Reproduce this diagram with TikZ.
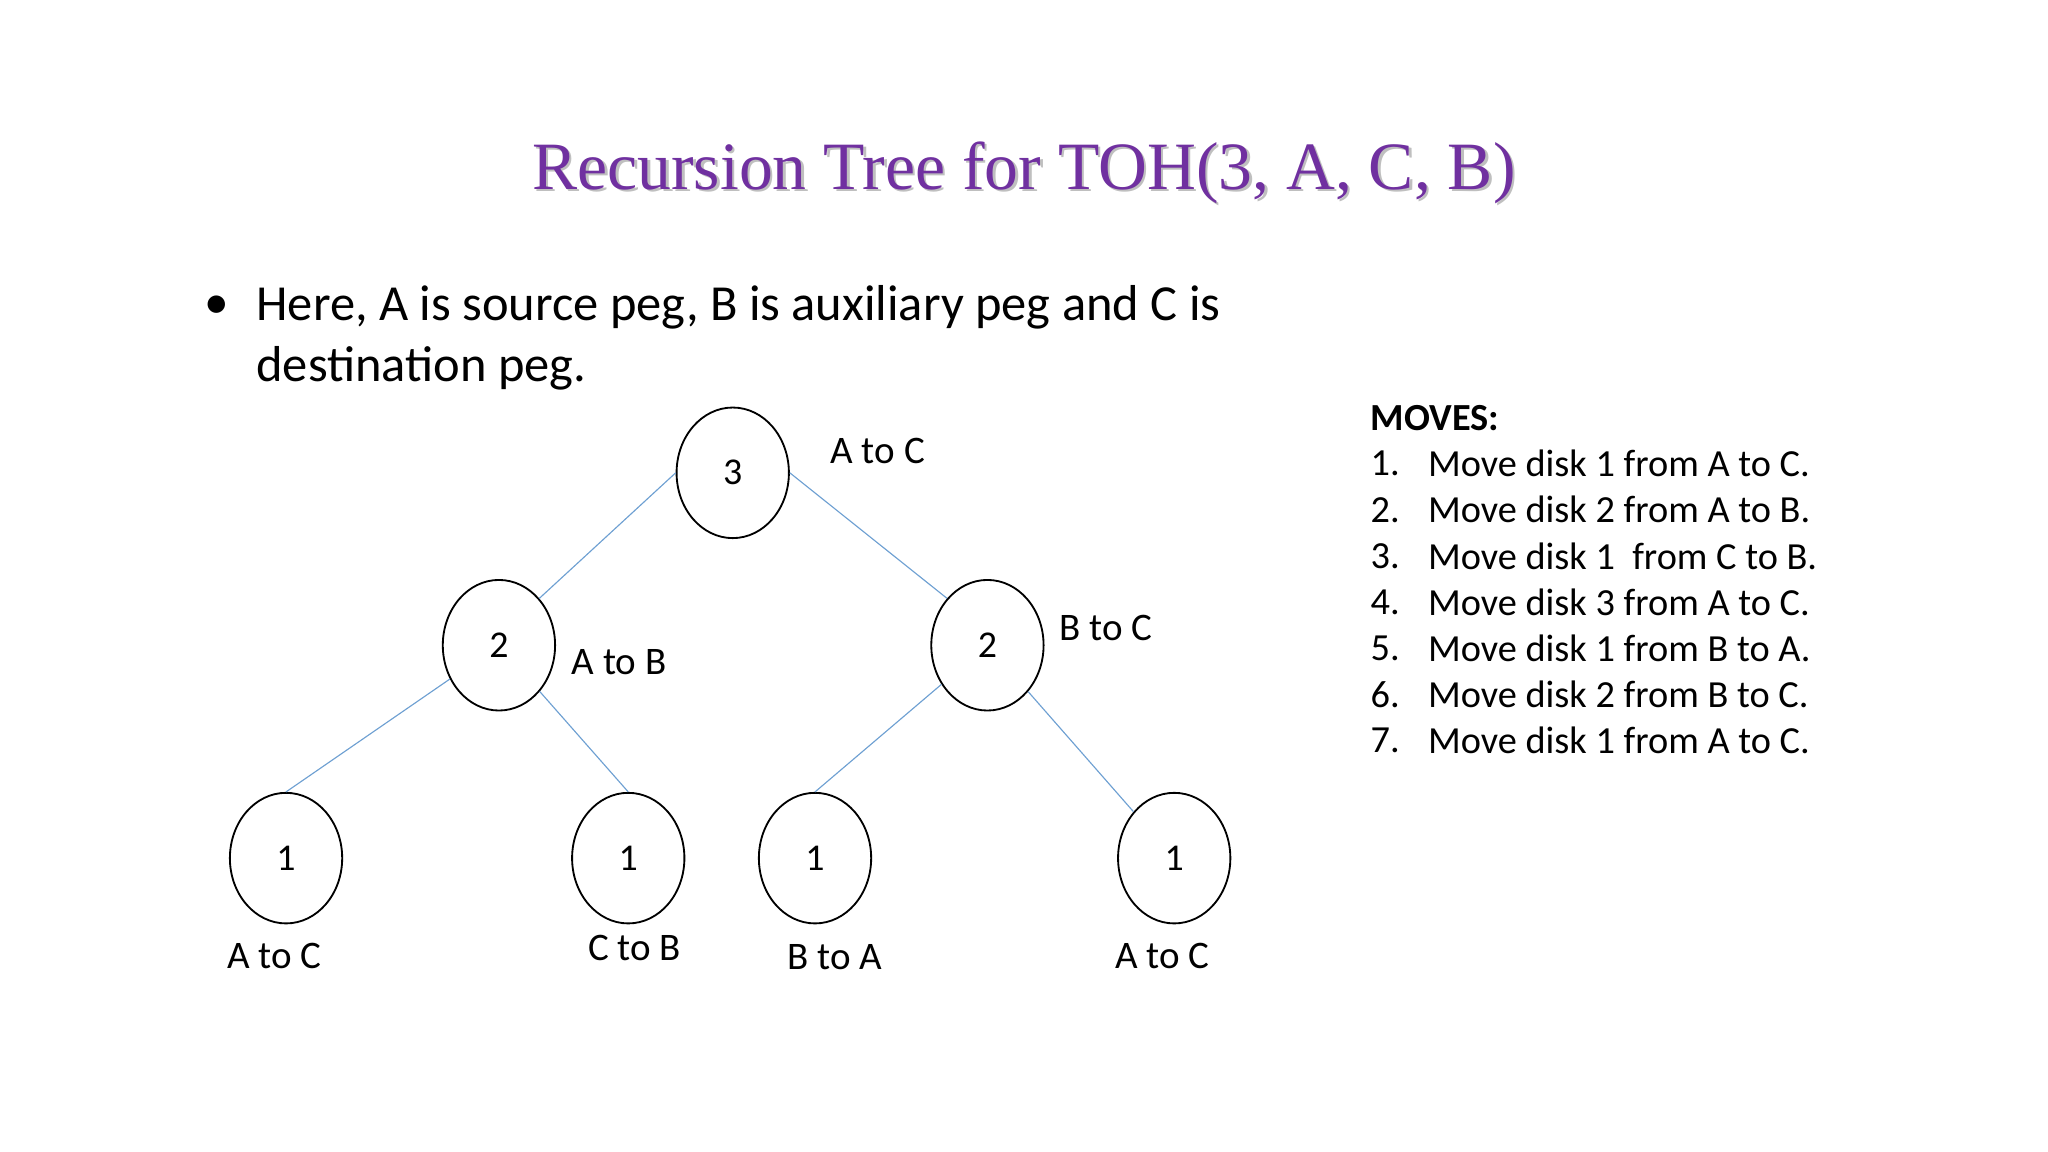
\documentclass[tikz,border=0pt]{standalone}
\usepackage{fontspec}
\setmainfont{Carlito}
\newfontfamily\titlefont{Liberation Serif}
\usetikzlibrary{shapes.geometric}
\definecolor{ttl}{RGB}{112,48,160}
\definecolor{edge}{RGB}{110,160,210}
\begin{document}
\begin{tikzpicture}[x=0.02cm,y=-0.02cm,
  tn/.style={draw,ellipse,thick,minimum width=1.72cm,minimum height=2cm,inner sep=0pt,font=\fontsize{16.5}{18}\selectfont},
  lbl/.style={font=\fontsize{17}{20}\selectfont,inner sep=0pt},
  mv/.style={font=\fontsize{16.7}{19}\selectfont,inner sep=0pt,anchor=west},
  ed/.style={draw=edge,line width=0.5pt}]
\useasboundingbox (0,0) rectangle (1568,882);
\node[text=gray!50,font=\titlefont\fontsize{29.5}{34}\selectfont] (shadow) at (786,134) {Recursion Tree for TOH(3, A, C, B)};
\node[text=ttl,font=\titlefont\fontsize{29.5}{34}\selectfont] (title) at (784,132) {Recursion Tree for TOH(3, A, C, B)};
\node[font=\fontsize{21.5}{26}\selectfont,inner sep=0pt] (bul) at (166,235) {•};
\node[font=\fontsize{22}{26}\selectfont,inner sep=0pt,anchor=west] (t1) at (196,235) {Here, A is source peg, B is auxiliary peg and C is};
\node[font=\fontsize{22}{26}\selectfont,inner sep=0pt,anchor=west] (t2) at (196,282) {destination peg.};
\node[tn] (r) at (561,362) {3};
\node[tn] (l) at (382,494) {2};
\node[tn] (rr) at (756,494) {2};
\node[tn] (a) at (219,657) {1};
\node[tn] (b) at (481,657) {1};
\node[tn] (c) at (624,657) {1};
\node[tn] (d) at (899,657) {1};
\draw[ed] (r.west) -- (l.north east); \draw[ed] (r.east) -- (rr.north west);
\draw[ed] (l) -- (a.north); \draw[ed] (l) -- (b.north);
\draw[ed] (rr) -- (c.north); \draw[ed] (rr) -- (d);
\node[lbl] (la) at (672,345) {A to C};
\node[lbl] (lb) at (474,507) {A to B};
\node[lbl] (lc) at (847,481) {B to C};
\node[lbl] (ld) at (210,732) {A to C};
\node[lbl] (le) at (486,726) {C to B};
\node[lbl] (lf) at (639,733) {B to A};
\node[lbl] (lg) at (890,732) {A to C};
\node[mv,font=\bfseries\fontsize{16.7}{19}\selectfont] (mh) at (1049,320) {MOVES:};
\foreach \i/\t in {1/Move disk 1 from A to C.,2/Move disk 2 from A to B.,3/Move disk 1 \ from C to B.,4/Move disk 3 from A to C.,5/Move disk 1 from B to A.,6/Move disk 2 from B to C.,7/Move disk 1 from A to C.}{
  \node[mv] (n\i) at (1049,{355+35.3*(\i-1)}) {\i.};
  \node[mv] (m\i) at (1093,{355+35.3*(\i-1)}) {\t};
}
\end{tikzpicture}
\end{document}
